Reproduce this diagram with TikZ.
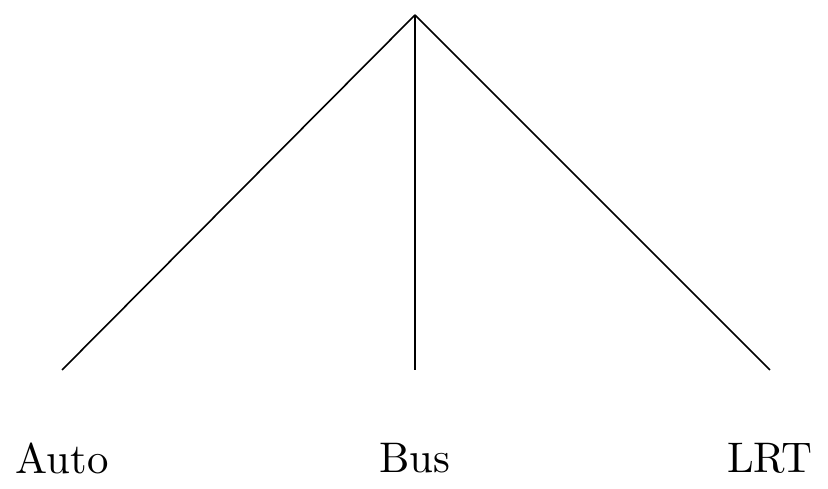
\documentclass[tikz,border=0pt]{standalone}
\begin{document}
\begin{tikzpicture}[x=0.25pt,y=-0.25pt,
  edge/.style={draw=black,line width=0.4pt},
  lbl/.style={inner sep=0pt,font=\fontsize{10.7}{13}\selectfont}]
\useasboundingbox (0,0) rectangle (828,489);
\coordinate (top) at (415,15);
\coordinate (ea) at (62,370);
\coordinate (eb) at (415,370);
\coordinate (ec) at (770,370);
\draw[edge] (top) -- (ea);
\draw[edge] (top) -- (eb);
\draw[edge] (top) -- (ec);
\node[lbl] (auto) at (62,458) {Auto};
\node[lbl] (bus) at (415,458) {Bus};
\node[lbl] (lrt) at (770,458) {LRT};
\end{tikzpicture}
\end{document}
